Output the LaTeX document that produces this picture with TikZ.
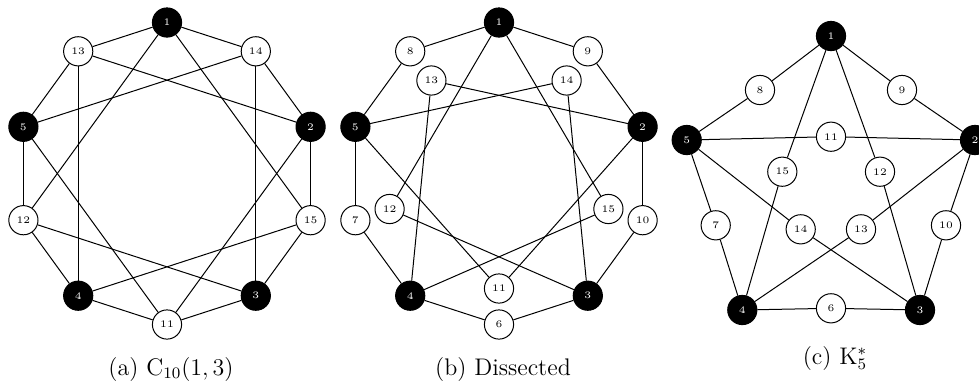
\documentclass[tikz,border=0pt]{standalone}
\begin{document}
\begin{tikzpicture}[x=0.5pt,y=-0.5pt,
  vtx/.style={circle,draw=black,line width=0.5pt,minimum size=14.6pt,inner sep=0pt,font=\tiny},
  bv/.style={vtx,fill=black,text=white},
  wv/.style={vtx,fill=white},
  edge/.style={line width=0.5pt},
  captext/.style={anchor=base,font=\fontsize{12}{14}\selectfont}]
\useasboundingbox (0,0) rectangle (979,381);
% ---------- panel (a)
\node[bv] (a1) at (167,22.5) {1};
\node[wv] (a14) at (255.8,51.3) {14};
\node[bv] (a2) at (310.6,126.8) {2};
\node[wv] (a15) at (310.6,220.2) {15};
\node[bv] (a3) at (255.8,295.7) {3};
\node[wv] (a11) at (167,324.5) {11};
\node[bv] (a4) at (78.2,295.7) {4};
\node[wv] (a12) at (23.4,220.2) {12};
\node[bv] (a5) at (23.4,126.8) {5};
\node[wv] (a13) at (78.2,51.3) {13};
\foreach \u/\v in {1/14,14/2,2/15,15/3,3/11,11/4,4/12,12/5,5/13,13/1,
  1/12,1/15,13/4,13/2,14/5,14/3,5/11,2/11,12/3,15/4}
  \draw[edge] (a\u) -- (a\v);
\node[captext] (capa) at (171,375) {(a) $\mathrm{C}_{10}(1,3)$};
% ---------- panel (b)
\node[bv] (b1) at (499,22.5) {1};
\node[wv] (b9) at (587.8,51.3) {9};
\node[bv] (b2) at (642.6,126.8) {2};
\node[wv] (b10) at (642.6,220.2) {10};
\node[bv] (b3) at (587.8,295.7) {3};
\node[wv] (b6) at (499,324.5) {6};
\node[bv] (b4) at (410.2,295.7) {4};
\node[wv] (b7) at (355.4,220.2) {7};
\node[bv] (b5) at (355.4,126.8) {5};
\node[wv] (b8) at (410.2,51.3) {8};
\node[wv] (b14) at (566.6,80.5) {14};
\node[wv] (b15) at (608.4,209) {15};
\node[wv] (b11) at (499,288.5) {11};
\node[wv] (b12) at (389.6,209) {12};
\node[wv] (b13) at (431.4,80.5) {13};
\foreach \u/\v in {1/9,9/2,2/10,10/3,3/6,6/4,4/7,7/5,5/8,8/1,
  1/12,1/15,13/4,13/2,14/5,14/3,5/11,2/11,12/3,15/4}
  \draw[edge] (b\u) -- (b\v);
\node[captext] (capb) at (503,375) {(b) Dissected};
% ---------- panel (c)
\node[bv] (c1) at (831,36) {1};
\node[wv] (c8) at (760,90) {8};
\node[wv] (c9) at (902,90) {9};
\node[bv] (c5) at (686.7,140) {5};
\node[wv] (c11) at (831,136.7) {11};
\node[bv] (c2) at (975,140) {2};
\node[wv] (c15) at (782.3,171.7) {15};
\node[wv] (c12) at (880,171.7) {12};
\node[wv] (c7) at (715.7,225.3) {7};
\node[wv] (c14) at (800.7,229.3) {14};
\node[wv] (c13) at (861,229.3) {13};
\node[wv] (c10) at (946,225.3) {10};
\node[bv] (c4) at (742.3,310) {4};
\node[wv] (c6) at (831,308.3) {6};
\node[bv] (c3) at (920,310) {3};
\foreach \u/\v in {1/8,8/5,1/9,9/2,5/11,11/2,5/7,7/4,2/10,10/3,4/6,6/3,
  1/15,15/4,1/12,12/3,5/14,14/3,2/13,13/4}
  \draw[edge] (c\u) -- (c\v);
\node[captext] (capc) at (835,364) {(c) $\mathrm{K}_5^*$};
\end{tikzpicture}
\end{document}
